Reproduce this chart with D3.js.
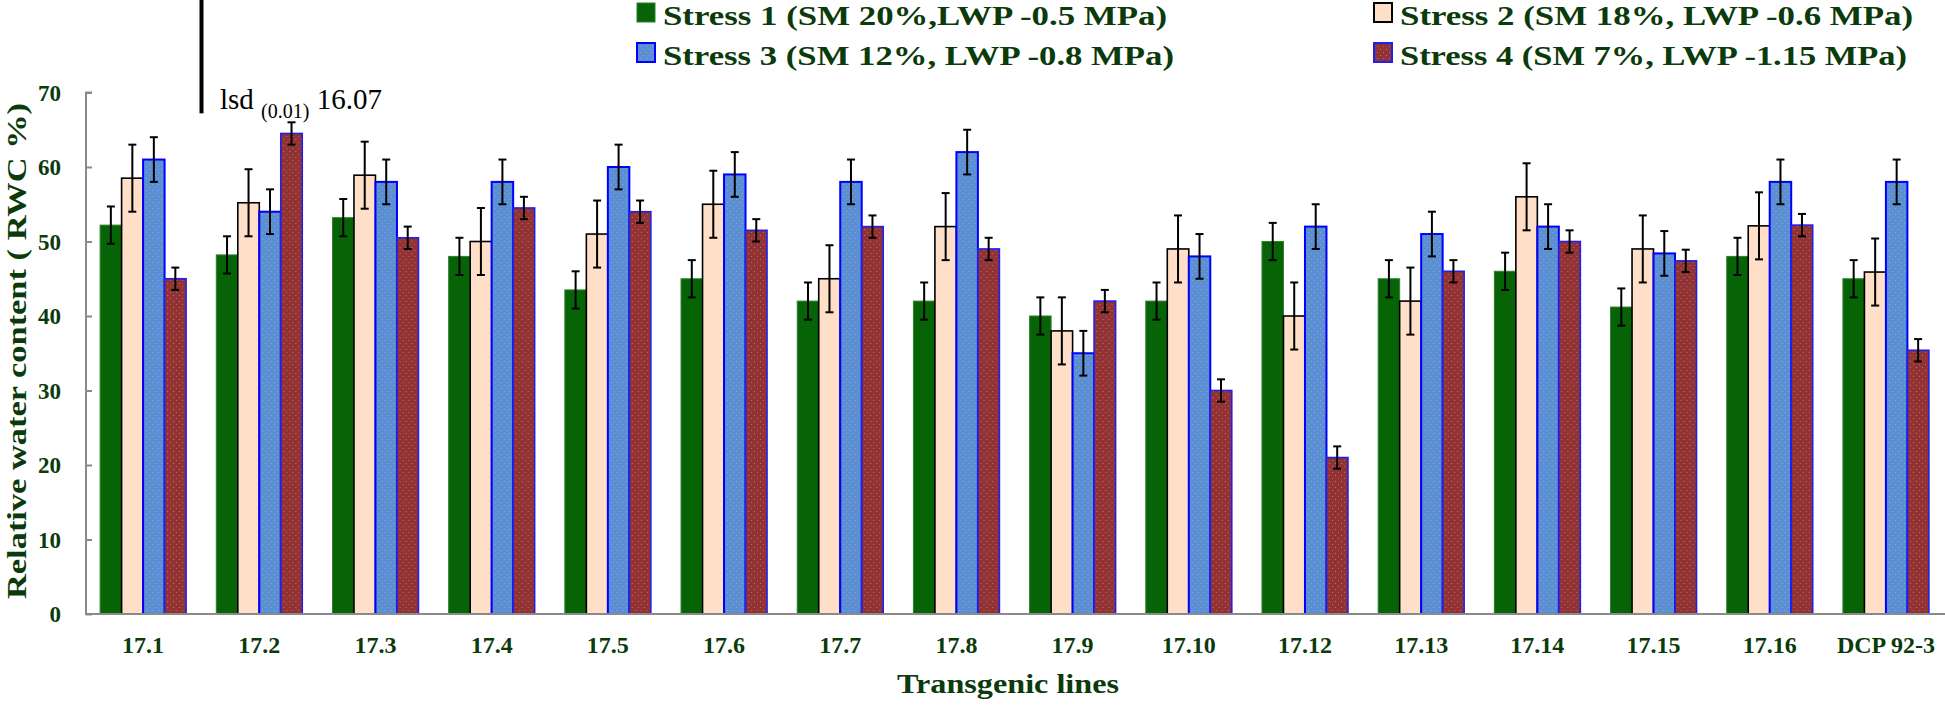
<!DOCTYPE html>
<html>
<head>
<meta charset="utf-8">
<script src="https://cdnjs.cloudflare.com/ajax/libs/d3/7.8.5/d3.min.js"></script>
<style>
    body { margin: 0; background: #fff; }
    svg { display: block; }
</style>
</head>
<body>
<div class="rwc-chart"></div>
<script>
var lines = ['17.1', '17.2', '17.3', '17.4', '17.5', '17.6', '17.7', '17.8',
    '17.9', '17.10', '17.12', '17.13', '17.14', '17.15', '17.16', 'DCP 92-3'];

var stress1 = [52.2, 48.2, 53.2, 48, 43.5, 45, 42, 42, 40, 42, 50, 45, 46, 41.2, 48, 45];
var stress2 = [58.5, 55.2, 58.9, 50, 51, 55, 45, 52, 38, 49, 40, 42, 56, 49, 52.1, 45.9];
var stress3 = [61, 54, 58, 58, 60, 59, 58, 62, 35, 48, 52, 51, 52, 48.4, 58, 58];
var stress4 = [45, 64.5, 50.5, 54.5, 54, 51.5, 52, 49, 42, 30, 21, 46, 50, 47.4, 52.2, 35.4];

// one error value per series (same for every line)
var errors = [2.5, 4.5, 3, 1.5];

var seriesNames = [
    'Stress 1 (SM 20%,LWP -0.5 MPa)',
    'Stress 2 (SM 18%, LWP -0.6 MPa)',
    'Stress 3 (SM 12%, LWP -0.8 MPa)',
    'Stress 4 (SM 7%, LWP -1.15 MPa)'
];

var yTicks = [0, 10, 20, 30, 40, 50, 60, 70];
var lsd = 16.07;
var lsdBase = 67.2;

var series = [stress1, stress2, stress3, stress4];
var keys = ['s1', 's2', 's3', 's4'];

var fills = ['#066406', '#ffdfc8', 'url(#dotsBlue)', 'url(#dotsRed)'];
var strokes = ['#2f7f2f', '#000', '#0000ff', '#1f1ff0'];
var strokeW = [1, 1.6, 2, 1.6];

var textGreen = '#0b3a0b';
var serif = '"Liberation Serif", "Times New Roman", serif';

var svg = d3.select('.rwc-chart').append('svg')
    .attr('width', 1945)
    .attr('height', 705);

var defs = svg.append('defs');

function dotPattern(id, base, dots) {
    var p = defs.append('pattern')
        .attr('id', id)
        .attr('patternUnits', 'userSpaceOnUse')
        .attr('width', 6)
        .attr('height', 6);
    p.append('rect').attr('width', 6).attr('height', 6).attr('fill', base);
    p.append('rect').attr('x', 1).attr('y', 1).attr('width', 1).attr('height', 1).attr('fill', dots[0]);
    p.append('rect').attr('x', 4).attr('y', 4).attr('width', 1).attr('height', 1).attr('fill', dots[1]);
}
dotPattern('dotsBlue', '#5b8fd5', ['#8fb86a', '#9a9cf0']);
dotPattern('dotsRed', '#933232', ['#b87a6e', '#a86a80']);

var x0 = d3.scaleBand()
    .domain(lines)
    .range([85, 1944])
    .paddingInner(0.26)
    .paddingOuter(0.13);

var x1 = d3.scaleBand()
    .domain(keys)
    .range([0, x0.bandwidth()]);

var y = d3.scaleLinear()
    .domain([0, 70])
    .range([614, 92.5]);

var rows = lines.map(function (name, i) {
    return {
        line: name,
        bars: keys.map(function (k, j) {
            return { key: k, idx: j, value: series[j][i], err: errors[j] };
        })
    };
});

var groups = svg.append('g')
    .selectAll('g')
    .data(rows)
    .enter().append('g')
    .attr('transform', function (d) { return 'translate(' + x0(d.line) + ',0)'; });

groups.selectAll('rect')
    .data(function (d) { return d.bars; })
    .enter().append('rect')
    .attr('x', function (d) { return x1(d.key); })
    .attr('y', function (d) { return y(d.value); })
    .attr('width', x1.bandwidth())
    .attr('height', function (d) { return y(0) - y(d.value); })
    .attr('fill', function (d) { return fills[d.idx]; })
    .attr('stroke', function (d) { return strokes[d.idx]; })
    .attr('stroke-width', function (d) { return strokeW[d.idx]; });

// error bars
var eb = groups.selectAll('g.err')
    .data(function (d) { return d.bars; })
    .enter().append('g')
    .attr('class', 'err')
    .attr('stroke', '#000')
    .attr('stroke-width', 2);

eb.append('line')
    .attr('x1', function (d) { return x1(d.key) + x1.bandwidth() / 2; })
    .attr('x2', function (d) { return x1(d.key) + x1.bandwidth() / 2; })
    .attr('y1', function (d) { return y(d.value + d.err); })
    .attr('y2', function (d) { return y(d.value - d.err); });

[1, -1].forEach(function (sgn) {
    eb.append('line')
        .attr('x1', function (d) { return x1(d.key) + x1.bandwidth() / 2 - 4; })
        .attr('x2', function (d) { return x1(d.key) + x1.bandwidth() / 2 + 4; })
        .attr('y1', function (d) { return y(d.value + sgn * d.err); })
        .attr('y2', function (d) { return y(d.value + sgn * d.err); });
});

// axes
var yAxis = svg.append('g')
    .attr('transform', 'translate(86,0)')
    .call(d3.axisRight(y).tickValues(yTicks).tickSize(6).tickFormat(''));
yAxis.select('.domain').attr('stroke', '#8a8a8a').attr('stroke-width', 2)
    .attr('d', 'M6,' + y(70) + 'H0V' + y(0) + 'H6');
yAxis.selectAll('.tick line').attr('stroke', '#8a8a8a').attr('stroke-width', 2);

svg.append('g')
    .selectAll('text')
    .data(yTicks)
    .enter().append('text')
    .attr('x', 61)
    .attr('y', function (d) { return y(d) + 8; })
    .attr('text-anchor', 'end')
    .attr('font-family', serif)
    .attr('font-weight', 'bold')
    .attr('font-size', 23)
    .attr('fill', textGreen)
    .text(function (d) { return d; });

var xAxis = svg.append('g')
    .attr('transform', 'translate(0,' + y(0) + ')')
    .call(d3.axisBottom(x0).tickSize(0).tickPadding(0));
xAxis.select('.domain').attr('stroke', '#8a8a8a').attr('stroke-width', 2)
    .attr('d', 'M86,0H1945');
xAxis.selectAll('.tick text')
    .attr('dy', 0)
    .attr('y', 39)
    .attr('font-family', serif)
    .attr('font-weight', 'bold')
    .attr('font-size', 24)
    .attr('fill', textGreen);

// titles
svg.append('text')
    .attr('transform', 'translate(26,351) rotate(-90)')
    .attr('text-anchor', 'middle')
    .attr('font-family', serif)
    .attr('font-weight', 'bold')
    .attr('font-size', 28)
    .attr('textLength', 496)
    .attr('lengthAdjust', 'spacingAndGlyphs')
    .attr('fill', textGreen)
    .text('Relative water content ( RWC %)');

svg.append('text')
    .attr('x', 897)
    .attr('y', 693)
    .attr('font-family', serif)
    .attr('font-weight', 'bold')
    .attr('font-size', 28)
    .attr('textLength', 222)
    .attr('lengthAdjust', 'spacingAndGlyphs')
    .attr('fill', textGreen)
    .text('Transgenic lines');

// lsd bar
svg.append('line')
    .attr('x1', 201.5).attr('x2', 201.5)
    .attr('y1', y(lsdBase + lsd))
    .attr('y2', y(lsdBase))
    .attr('stroke', '#000')
    .attr('stroke-width', 4);

var lsdText = svg.append('text')
    .attr('x', 220)
    .attr('y', 109)
    .attr('font-family', serif)
    .attr('font-size', 29)
    .attr('fill', '#000');
lsdText.append('tspan').text('lsd ');
lsdText.append('tspan').attr('font-size', 20).attr('dy', 9).text('(0.01)');
lsdText.append('tspan').attr('dy', -9).text(' ' + lsd.toFixed(2));

// legend
var legendPos = [[636, 2], [1373, 2], [636, 42], [1373, 42]];
var legendLen = [504, 513, 511, 507];

var legend = svg.append('g')
    .selectAll('g')
    .data(seriesNames)
    .enter().append('g')
    .attr('transform', function (d, i) {
        return 'translate(' + legendPos[i][0] + ',' + legendPos[i][1] + ')';
    });

legend.append('rect')
    .attr('x', 1).attr('y', 1)
    .attr('width', 18).attr('height', 19)
    .attr('fill', function (d, i) { return fills[i]; })
    .attr('stroke', function (d, i) { return strokes[i]; })
    .attr('stroke-width', function (d, i) { return i === 0 ? 1 : 2; });

legend.append('text')
    .attr('x', 27)
    .attr('y', 22.5)
    .attr('font-family', serif)
    .attr('font-weight', 'bold')
    .attr('font-size', 27)
    .attr('textLength', function (d, i) { return legendLen[i]; })
    .attr('lengthAdjust', 'spacingAndGlyphs')
    .attr('fill', textGreen)
    .text(function (d) { return d; });
</script>
</body>
</html>
